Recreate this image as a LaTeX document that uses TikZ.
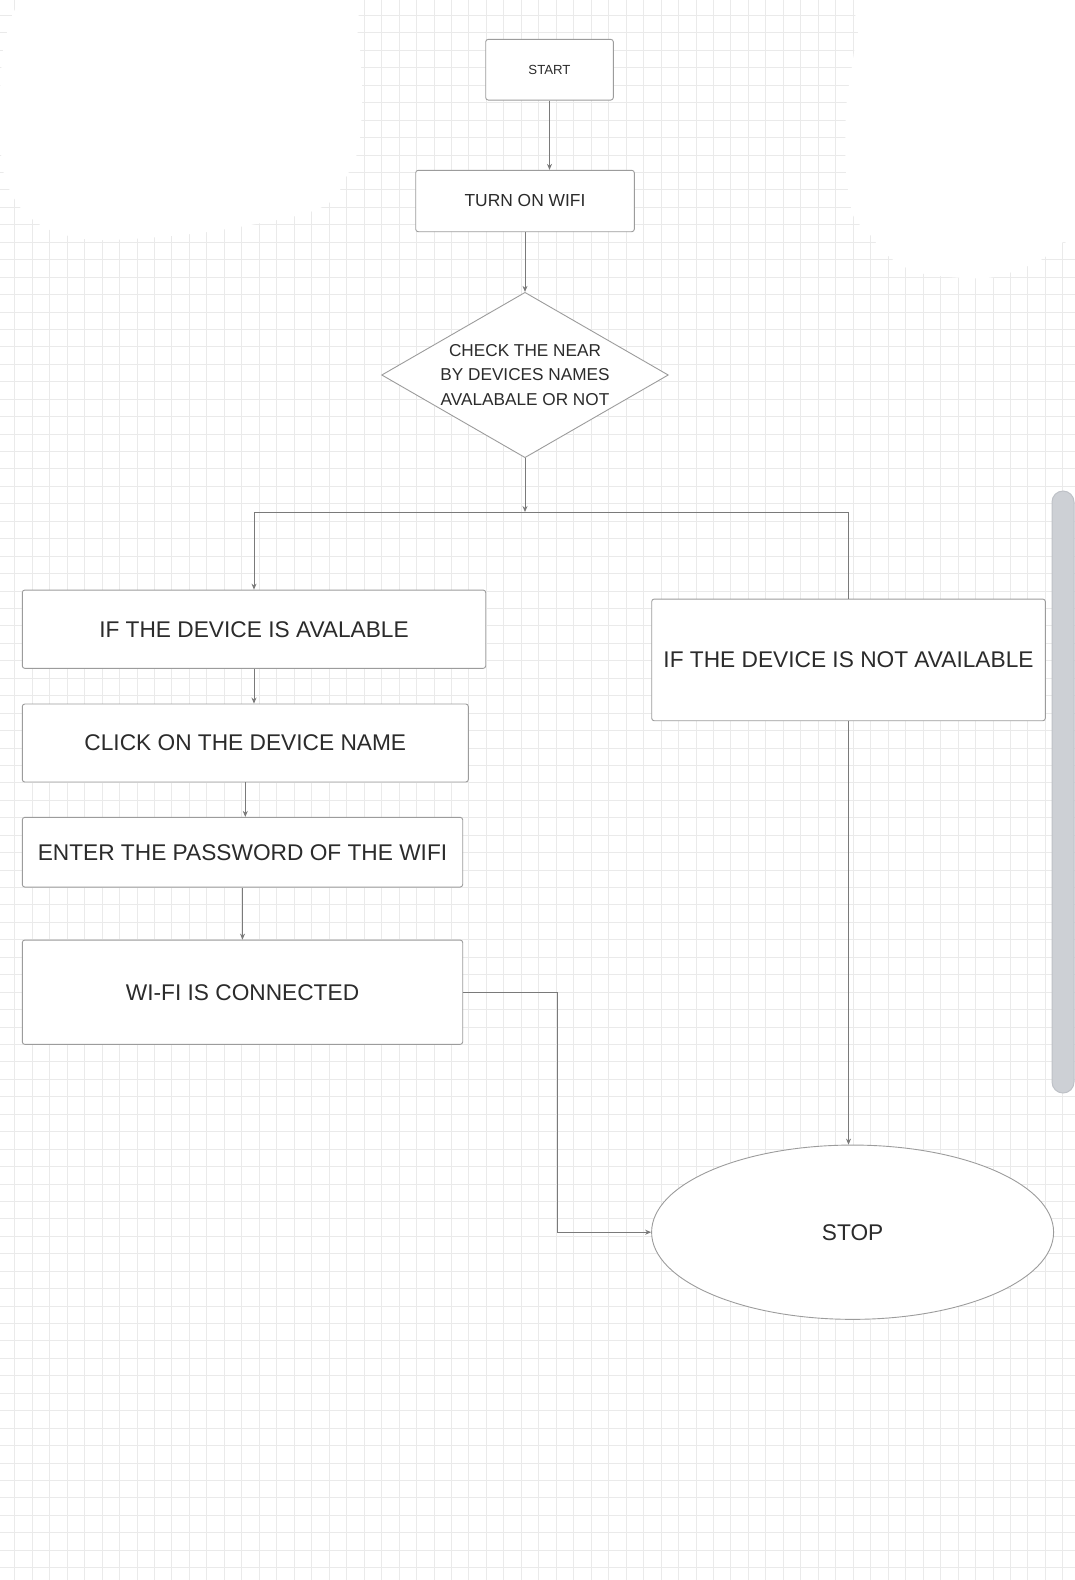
\documentclass[tikz,border=0pt]{standalone}
\usepackage{fontspec}
\setmainfont{Liberation Sans}
\usetikzlibrary{shapes.geometric,arrows.meta}
\definecolor{inkgray}{HTML}{2B2B2B}
\definecolor{edgegray}{HTML}{9C9C9C}
\definecolor{wiregray}{HTML}{7A7A7A}
\definecolor{gridgray}{HTML}{EAEAEA}
\definecolor{barfill}{HTML}{CDD0D5}
\definecolor{barline}{HTML}{BEC1C7}
\begin{document}
\begin{tikzpicture}[
  x=1pt, y=-1pt,
  box/.style={draw=edgegray, line width=0.9pt, rounded corners=2.5pt, fill=white,
    inner sep=0pt, text=inkgray, font=\fontsize{22.7}{27}\selectfont},
  decision/.style={diamond, draw=edgegray, line width=0.9pt, fill=white, inner sep=0pt},
  term/.style={ellipse, draw=edgegray, line width=0.9pt, fill=white, inner sep=0pt,
    text=inkgray, font=\fontsize{22.7}{27}\selectfont},
  wire/.style={draw=wiregray, line width=0.8pt},
  >={Stealth[length=6pt,width=5pt]}
]
  % canvas, grid, erased patches and scroll bar
  \useasboundingbox (0,0) rectangle (1075,1580);
  \fill[white] (0,0) rectangle (1075,1580);
  \foreach \k in {0,...,62}
    \draw[gridgray, line width=1pt] ({-2.75+17.47*\k},0) -- ({-2.75+17.47*\k},1580);
  \foreach \k in {0,...,91}
    \draw[gridgray, line width=1pt] (0,{-1.9+17.44*\k}) -- (1075,{-1.9+17.44*\k});
  \fill[white] plot[smooth cycle, tension=0.5] coordinates {(50,-3) (333,-3) (357,30)
    (362,100) (358,150) (343,183) (333,200) (300,215) (200,233) (100,240) (50,230)
    (20,207) (3,170) (0,100) (8,30)};
  \fill[white] plot[smooth cycle, tension=0.5] coordinates {(873,-3) (1080,-3) (1080,238)
    (1063,242) (1037,262) (987,278) (920,273) (887,255) (868,232) (853,215) (846,170)
    (846,110) (852,66) (858,33)};
  \filldraw[fill=barfill, draw=barline, line width=1pt, rounded corners=11pt]
    (1052,491) rectangle (1074,1093);

  % flow
  \node[box, minimum width=127.6pt, minimum height=60.7pt,
    font=\fontsize{13.2}{16}\selectfont] (start) at (549.5,69.7) {START};
  \node[box, minimum width=218.6pt, minimum height=61.4pt,
    font=\fontsize{17.4}{21}\selectfont] (wifi) at (525,201) {TURN ON WIFI};
  \node[decision, minimum width=286.7pt, minimum height=165.4pt] (check) at (525,375) {};
  \node[text=inkgray, align=center, font=\fontsize{17.2}{24.7}\selectfont] (checktext)
    at (check.center) {CHECK THE NEAR\\BY DEVICES NAMES\\AVALABALE OR NOT};
  \node[box, minimum width=463.4pt, minimum height=78.3pt] (avail) at (254,629.2)
    {IF THE DEVICE IS AVALABLE};
  \node[box, minimum width=446pt, minimum height=78pt] (click) at (245.3,743)
    {CLICK ON THE DEVICE NAME};
  \node[box, minimum width=440.4pt, minimum height=69.7pt] (enter) at (242.5,852.2)
    {ENTER THE PASSWORD OF THE WIFI};
  \node[box, minimum width=440.4pt, minimum height=104.3pt] (linked) at (242.5,992.2)
    {WI-FI IS CONNECTED};
  \node[box, minimum width=393.6pt, minimum height=121.7pt] (notavail) at (848.5,659.9)
    {IF THE DEVICE IS NOT AVAILABLE};
  \node[term, minimum width=402pt, minimum height=174.3pt] (stop) at (852.6,1232.2) {STOP};

  \coordinate (fork) at (525,512);
  \draw[wire,->] (start.south) -- (start.south |- wifi.north);
  \draw[wire,->] (wifi.south) -- (check.north);
  \draw[wire,->] (check.south) -- (fork);
  \draw[wire,->] (fork) -| (avail.north);
  \draw[wire] (fork) -| (notavail.north);
  \draw[wire,->] (avail.south) -- (avail.south |- click.north);
  \draw[wire,->] (click.south) -- (click.south |- enter.north);
  \draw[wire,->] (enter.south) -- (enter.south |- linked.north);
  \draw[wire,->] (linked.east) -- ++(94,0) |- (stop.west);
  \draw[wire,->] (notavail.south) -- (notavail.south |- stop.north);
\end{tikzpicture}
\end{document}
